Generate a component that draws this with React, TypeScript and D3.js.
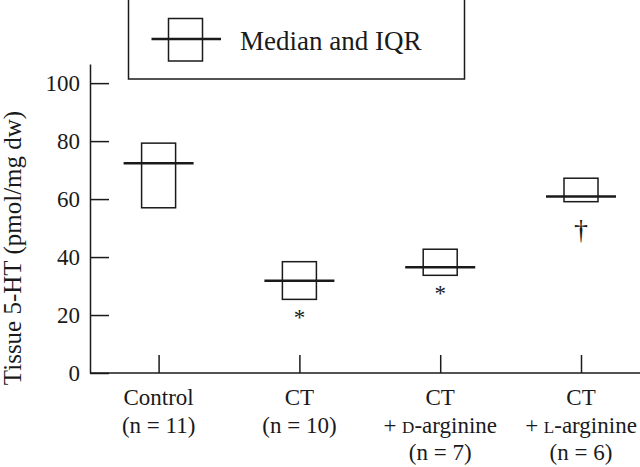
import { useEffect, useRef } from "react"
import { select, scaleLinear, scalePoint, axisLeft, axisBottom } from "d3"

// values
const categories = ["Control", "CT", "CT + D-arginine", "CT + L-arginine"]
const nCounts = [11, 10, 7, 6]
const isomers = ["", "", "D", "L"]
const medians = [72.4, 31.8, 36.5, 60.9]
const q1s = [57.0, 25.4, 33.7, 59.1]
const q3s = [79.3, 38.4, 42.7, 67.2]
const marks = ["", "*", "*", "\u2020"]
const yTicks = [0, 20, 40, 60, 80, 100]
const legendLabel = "Median and IQR"
const yLabel = "Tissue 5-HT (pmol/mg dw)"

const App = () => {
  const svgRef = useRef<SVGSVGElement>(null)

  useEffect(() => {
    const width = 640
    const height = 467
    const axisX = 90
    const axisY = 373
    const font = "'Liberation Serif', 'Times New Roman', serif"
    const ink = "#1a1a1a"

    const svg = select(svgRef.current)
    svg.selectAll("*").remove()

    const y = scaleLinear().domain([0, 106.6]).range([axisY, 64])
    const x = scalePoint().domain(categories).range([158.6, 581])

    // y axis, ticks pointing inward
    const yAxis = axisLeft(y).tickValues(yTicks).tickSize(-19).tickSizeOuter(0).tickPadding(10)
    const gy = svg.append("g").attr("transform", `translate(${axisX},0)`).call(yAxis)
    gy.selectAll("path, line").attr("stroke", ink).attr("stroke-width", 1.5)
    gy.selectAll("text").attr("font-family", font).attr("font-size", 23).attr("fill", ink)

    // x axis, ticks pointing up, line runs off the right edge
    const xAxis = axisBottom(x).tickSize(-18).tickSizeOuter(0).tickFormat(() => "")
    const gx = svg.append("g").attr("transform", `translate(0,${axisY})`).call(xAxis)
    gx.select(".domain").remove()
    gx.selectAll("line").attr("stroke", ink).attr("stroke-width", 1.5)
    svg.append("line")
      .attr("x1", axisX).attr("x2", width)
      .attr("y1", axisY).attr("y2", axisY)
      .attr("stroke", ink).attr("stroke-width", 1.5)

    // category labels
    categories.forEach((c, i) => {
      const cx = x(c) as number
      const t = svg.append("text")
        .attr("font-family", font).attr("font-size", 23).attr("fill", ink)
        .attr("text-anchor", "middle")
      const first = isomers[i] ? "CT" : c
      t.append("tspan").attr("x", cx).attr("y", 405).text(first)
      let lineY = 433
      if (isomers[i]) {
        const t2 = t.append("tspan").attr("x", cx).attr("y", lineY)
        t2.append("tspan").text("+ ")
        t2.append("tspan").attr("font-size", 17).text(isomers[i])
        t2.append("tspan").text("-arginine")
        lineY += 27
      }
      t.append("tspan").attr("x", cx).attr("y", lineY).text(`(n = ${nCounts[i]})`)
    })

    // boxes
    const boxW = 34
    const medW = 70
    const g = svg.append("g")
    categories.forEach((c, i) => {
      const cx = x(c) as number
      g.append("rect")
        .attr("x", cx - boxW / 2).attr("width", boxW)
        .attr("y", y(q3s[i])).attr("height", y(q1s[i]) - y(q3s[i]))
        .attr("fill", "none").attr("stroke", ink).attr("stroke-width", 1.5)
      g.append("line")
        .attr("x1", cx - medW / 2).attr("x2", cx + medW / 2)
        .attr("y1", y(medians[i])).attr("y2", y(medians[i]))
        .attr("stroke", ink).attr("stroke-width", 2.5)
      if (marks[i]) {
        const dagger = marks[i] !== "*"
        g.append("text")
          .attr("x", cx).attr("y", y(q1s[i]) + (dagger ? 37 : 26))
          .attr("text-anchor", "middle")
          .attr("font-family", font).attr("font-size", dagger ? 28 : 23)
          .attr("fill", ink)
          .text(marks[i])
      }
    })

    // y label
    svg.append("text")
      .attr("transform", `translate(21,248) rotate(-90)`)
      .attr("text-anchor", "middle")
      .attr("font-family", font).attr("font-size", 25).attr("fill", ink)
      .text(yLabel)

    // legend
    const lg = svg.append("g")
    lg.append("rect").attr("x", 128.5).attr("y", -1).attr("width", 336).attr("height", 80)
      .attr("fill", "none").attr("stroke", ink).attr("stroke-width", 1.5)
    lg.append("rect").attr("x", 168.5).attr("y", 18.5).attr("width", 34).attr("height", 42.5)
      .attr("fill", "none").attr("stroke", ink).attr("stroke-width", 1.5)
    lg.append("line").attr("x1", 151.5).attr("x2", 221).attr("y1", 39).attr("y2", 39)
      .attr("stroke", ink).attr("stroke-width", 2.5)
    lg.append("text").attr("x", 240).attr("y", 49.5)
      .attr("font-family", font).attr("font-size", 27).attr("fill", ink)
      .text(legendLabel)

    svg.attr("height", height)
  }, [])

  return (
    <div style={{ position: "absolute", left: 0, top: 0 }}>
      <svg ref={svgRef} width={640} height={467} style={{ display: "block", background: "#fff" }} />
    </div>
  )
}

export default App
